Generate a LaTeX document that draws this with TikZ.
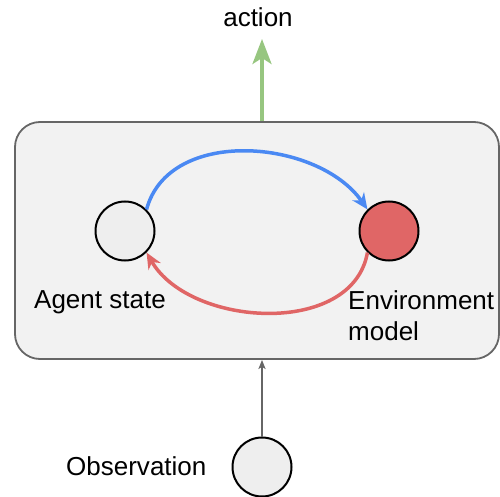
\documentclass[tikz,border=0pt]{standalone}
\usepackage{fontspec}
\setmainfont{Liberation Sans}
\usetikzlibrary{arrows.meta}

\definecolor{panelfill}{HTML}{F2F2F2}
\definecolor{panelline}{HTML}{666666}
\definecolor{stategray}{HTML}{EEEEEE}
\definecolor{envred}{HTML}{E06666}
\definecolor{planblue}{HTML}{4A89F3}
\definecolor{actiongreen}{HTML}{97C680}

\tikzstyle{caption} = [font=\fontsize{26}{31}\selectfont,inner sep=0pt]
\tikzstyle{panel} = [draw=panelline,line width=1.8pt,fill=panelfill,rounded corners=25pt,minimum width=484pt,minimum height=237pt]
\tikzstyle{state} = [circle,draw,line width=2pt,minimum size=59pt,inner sep=0pt]
\tikzstyle{cyclearrow} = [-{Stealth[length=16pt,width=14pt,inset=5pt]},line width=3.5pt]
\tikzstyle{actionarrow} = [-{Stealth[length=25pt,width=19pt,inset=6pt]},line width=3.5pt,actiongreen]
\tikzstyle{obsarrow} = [-{Stealth[length=9pt,width=7pt,inset=2pt]},line width=1.6pt,panelline]

\begin{document}
\begin{tikzpicture}[x=1pt,y=1pt]
      \useasboundingbox (0,0) rectangle (500,496);
      %frame
      \node[panel] (panel) at (257,255.5) {};
      %nodes
      \foreach \nodename/\x/\y/\color in {
        agent/125/265/stategray,
        env/389/265/envred,
        obs/262/29/stategray}
      {
        \node[state, fill=\color] (\nodename) at (\x,\y) {};
      };
      \coordinate (actiontip) at (262,457);
      %texts
      \node[caption, anchor=base] (action) at (258,469) {action};
      \node[caption, anchor=base west] (agentname) at (34,188) {Agent state};
      \node[caption, anchor=north west, align=left] (envname) at (348,206) {Environment\\model};
      \node[caption, anchor=base west] (obsname) at (66,21) {Observation};
      %edges
      \draw[actionarrow] (actiontip |- panel.north) -- (actiontip);
      \draw[obsarrow] (obs) -- (obs |- panel.south);
      \draw[cyclearrow, planblue] (agent.45) to[out=75,in=125] (env.135);
      \draw[cyclearrow, envred] (env.225) to[out=-100,in=-60] (agent.315);
\end{tikzpicture}
\end{document}
